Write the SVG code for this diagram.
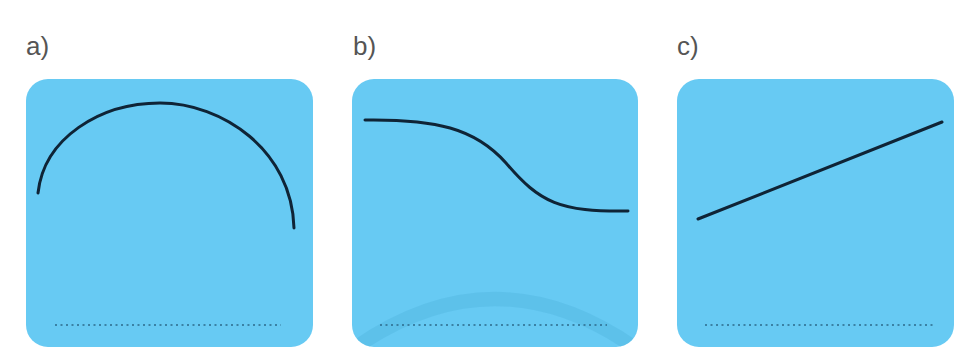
<svg xmlns="http://www.w3.org/2000/svg" width="954" height="347" viewBox="0 0 954 347">
<style>
.panel{fill:#67CAF3;}
.lbl{font-family:"Liberation Sans",Arial,sans-serif;font-size:26px;fill:#555;}
.curve{fill:none;stroke:#0f2436;stroke-width:3;stroke-linecap:round;}
.dots{fill:none;stroke:#2d6a8a;stroke-width:1.6;stroke-dasharray:2 3.5;}
</style>
<defs>
<clipPath id="clipb"><rect x="352" y="79" width="286" height="268" rx="22"/></clipPath>
</defs>
<rect width="954" height="347" fill="#ffffff"/>
<g id="panel-a">
<text class="lbl" x="26" y="55">a)</text>
<rect class="panel" x="26" y="79" width="287" height="268" rx="22"/>
<path class="curve" d="M38,193 C44,138 100,103 160,103 C222,103 292,150 294,228"/>
<line class="dots" x1="55" y1="325" x2="281" y2="325"/>
</g>
<g id="panel-b">
<text class="lbl" x="353" y="55">b)</text>
<rect class="panel" x="352" y="79" width="286" height="268" rx="22"/>
<path d="M352,350 Q495,248 638,350" fill="none" stroke="#52b6e0" stroke-width="14" opacity="0.45" clip-path="url(#clipb)"/>
<path class="curve" d="M365,120 C435,119 475,128 506,163 C540,203 560,212 628,211"/>
<line class="dots" x1="380" y1="325" x2="607" y2="325"/>
</g>
<g id="panel-c">
<text class="lbl" x="677" y="55">c)</text>
<rect class="panel" x="677" y="79" width="277" height="268" rx="22"/>
<line class="curve" x1="698" y1="219" x2="942" y2="122"/>
<line class="dots" x1="705" y1="325" x2="933" y2="325"/>
</g>
</svg>
